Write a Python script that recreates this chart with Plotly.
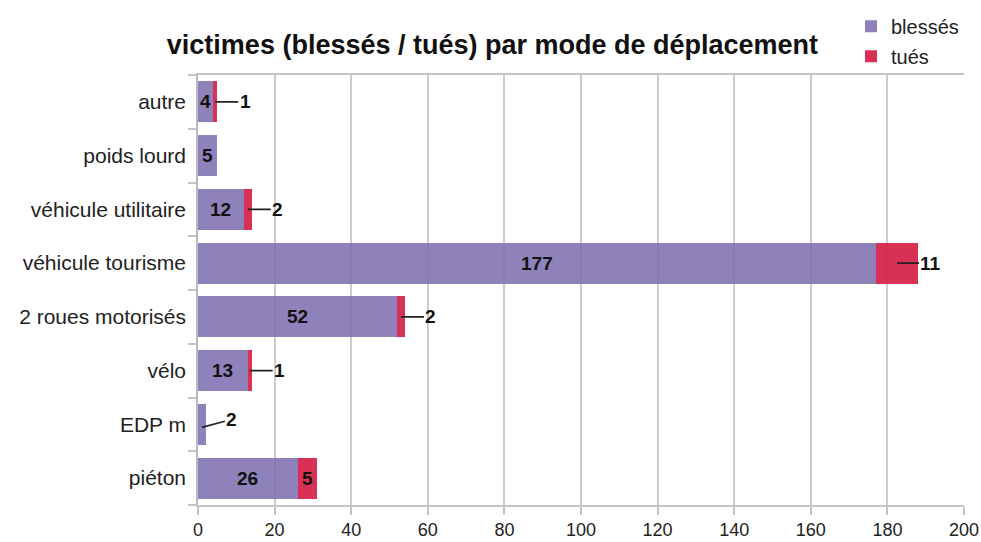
import plotly.graph_objects as go

categories = ["piéton", "EDP m", "vélo", "2 roues motorisés", "véhicule tourisme",
              "véhicule utilitaire", "poids lourd", "autre"]
blesses = [26, 2, 13, 52, 177, 12, 5, 4]
tues = [5, 0, 1, 2, 11, 2, 0, 1]
x_ticks = list(range(0, 201, 20))

# label placement (as in the reference): True = label outside with a leader line
blesses_outside = [False, True, False, False, False, False, False, False]
tues_outside = [False, False, True, True, True, True, False, True]

PURPLE = "rgba(128,113,176,0.88)"
RED = "rgba(214,32,72,0.93)"
FONT = "Liberation Sans, Arial, sans-serif"

fig = go.Figure()
fig.add_trace(go.Bar(y=categories, x=blesses, orientation="h", name="blessés",
                     marker=dict(color=PURPLE, line=dict(width=0)),
                     legendgroup="a", hoverinfo="x+y"))
fig.add_trace(go.Bar(y=categories, x=tues, orientation="h", name="tués",
                     marker=dict(color=RED, line=dict(width=0)),
                     legendgroup="b", hoverinfo="x+y"))

annotations = []
label_font = dict(family=FONT, size=19, color="#111111")
for cat, b, t, bo, to in zip(categories, blesses, tues, blesses_outside, tues_outside):
    if b > 0:
        if not bo:
            annotations.append(dict(x=b / 2, y=cat, text=f"<b>{b}</b>", showarrow=False,
                                    font=label_font, xref="x", yref="y"))
        else:
            annotations.append(dict(x=b / 2, y=cat, text=f"<b>{b}</b>", showarrow=True,
                                    arrowhead=0, arrowwidth=1.6, arrowcolor="#222222",
                                    ax=30, ay=-8, standoff=0, startstandoff=0,
                                    font=label_font, xref="x", yref="y", yshift=-3))
    if t > 0:
        if not to:
            annotations.append(dict(x=b + t / 2, y=cat, text=f"<b>{t}</b>", showarrow=False,
                                    font=label_font, xref="x", yref="y"))
        else:
            annotations.append(dict(x=b + t / 2, y=cat, text=f"<b>{t}</b>", showarrow=True,
                                    arrowhead=0, arrowwidth=1.6, arrowcolor="#222222",
                                    ax=30 if t < 10 else 34, ay=0, standoff=0, startstandoff=0,
                                    font=label_font, xref="x", yref="y"))

fig.update_layout(
    barmode="stack",
    bargap=0.24,
    width=981, height=542,
    margin=dict(l=198, r=17, t=75, b=37, autoexpand=False),
    paper_bgcolor="white", plot_bgcolor="white",
    font=dict(family=FONT, size=18, color="#222222"),
    title=dict(text="<b>victimes (blessés / tués) par mode de déplacement</b>",
               x=0.502, xanchor="center", y=0.917, yanchor="middle",
               font=dict(family=FONT, size=27, color="#111111")),
    legend=dict(x=1.0, xanchor="right", y=0.998, yanchor="bottom",
                traceorder="grouped", tracegroupgap=1,
                font=dict(family=FONT, size=20, color="#222222"),
                bgcolor="rgba(0,0,0,0)", itemwidth=30),
    annotations=annotations,
    xaxis=dict(range=[0, 200], tickvals=x_ticks, ticktext=[str(v) for v in x_ticks],
               showgrid=True, gridcolor="#cccccc", gridwidth=1.5, automargin=False,
               zeroline=False, showline=True, linecolor="#c4c4c4", linewidth=1.5,
               mirror=True, ticks="outside", ticklen=8, tickcolor="#c4c4c4",
               tickwidth=1.5, tickfont=dict(size=18, color="#222222")),
    yaxis=dict(categoryorder="array", categoryarray=categories, automargin=False,
               showline=True, linecolor="#b8b8c8", linewidth=1.5,
               ticks="outside", tickson="boundaries", ticklen=8,
               tickcolor="#c4c4c4", tickwidth=1.5, showgrid=False,
               ticklabelstandoff=6,
               tickfont=dict(size=21, color="#222222")),
)

fig.write_html("out.html", config={"displayModeBar": False},
               post_script="document.body.style.margin='0';document.body.style.overflow='hidden';")
